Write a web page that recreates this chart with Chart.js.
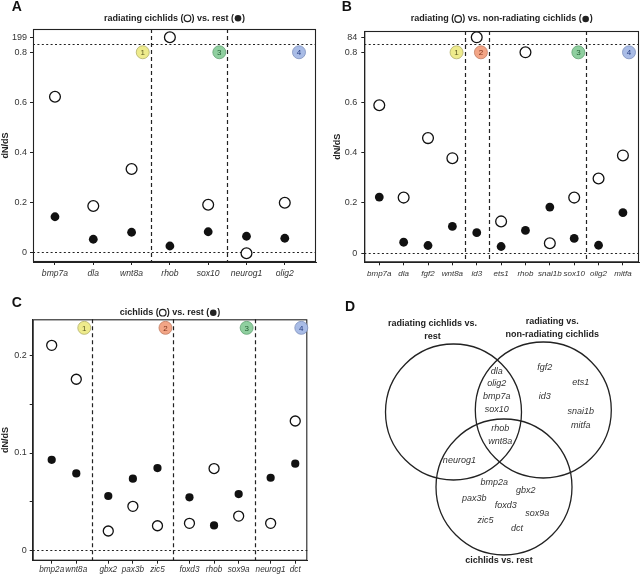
<!DOCTYPE html>
<html>
<head>
<meta charset="utf-8">
<script src="https://cdn.jsdelivr.net/npm/chart.js@4.4.1/dist/chart.umd.min.js"></script>
<style>
  body { margin: 0; background: #fff; }
  #wrap { position: relative; width: 640px; height: 577px; }
  canvas { position: absolute; }
</style>
</head>
<body>
<div id="wrap">
  <canvas id="chartA" width="320" height="290" style="left:0;top:0"></canvas>
  <canvas id="chartB" width="320" height="290" style="left:320px;top:0"></canvas>
  <canvas id="chartC" width="320" height="287" style="left:0;top:290px"></canvas>
  <canvas id="chartD" width="320" height="287" style="left:320px;top:290px"></canvas>
</div>
<script>
// ---- panel A: radiating cichlids vs rest
const genesA = ['bmp7a', 'dla', 'wnt8a', 'rhob', 'sox10', 'neurog1', 'olig2'];
const openA = [0.622, 0.185, 0.333, 199, 0.19, -0.004, 0.198];
const filledA = [0.142, 0.052, 0.08, 0.025, 0.082, 0.064, 0.056];
const splitsA = [2, 4];          // divider after these gene indexes
const badgesA = [1, 3, 4];
const titleA = ['radiating cichlids (', 'open', ') vs. rest (', 'filled', ')'];

// ---- panel B: radiating vs non-radiating cichlids
const genesB = ['bmp7a', 'dla', 'fgf2', 'wnt8a', 'id3', 'ets1', 'rhob', 'snai1b', 'sox10', 'olig2', 'mitfa'];
const openB = [0.589, 0.221, 0.458, 0.378, 84, 0.126, 0.8, 0.039, 0.221, 0.297, 0.389];
const filledB = [0.223, 0.043, 0.03, 0.106, 0.081, 0.026, 0.09, 0.183, 0.058, 0.031, 0.161];
const splitsB = [3, 4, 8];
const badgesB = [1, 2, 3, 4];
const titleB = ['radiating (', 'open', ') vs. non-radiating cichlids (', 'filled', ')'];

// ---- panel C: cichlids vs rest
const genesC = ['bmp2a', 'wnt8a', 'gbx2', 'pax3b', 'zic5', 'foxd3', 'rhob', 'sox9a', 'neurog1', 'dct'];
const openC = [0.211, 0.176, 0.0196, 0.045, 0.025, 0.0275, 0.084, 0.035, 0.0275, 0.133];
const filledC = [0.093, 0.079, 0.0557, 0.0735, 0.0845, 0.0543, 0.0254, 0.0577, 0.0745, 0.089];
const splitsC = [1, 4, 7];
const badgesC = [1, 2, 3, 4];
const titleC = ['cichlids (', 'open', ') vs. rest (', 'filled', ')'];

// y ticks
const yTicksAB = [0, 0.2, 0.4, 0.6, 0.8];
const yLabelsAB = ['0', '0.2', '0.4', '0.6', '0.8'];
const yTicksC = [0, 0.05, 0.1, 0.15, 0.2];
const yLabelsC = ['0', '', '0.1', '', '0.2'];

// ---- panel D: venn
const setTitles = [['radiating cichlids vs.', 'rest'], ['radiating vs.', 'non-radiating cichlids'], ['cichlids vs. rest']];
const genesOnly2 = ['fgf2', 'ets1', 'id3', 'snai1b', 'mitfa'];
const genesOnly3 = ['bmp2a', 'gbx2', 'pax3b', 'foxd3', 'sox9a', 'zic5', 'dct'];
const genes12 = ['dla', 'olig2', 'bmp7a', 'sox10'];
const genes13 = ['neurog1'];
const genes123 = ['rhob', 'wnt8a'];

const FONT = '"Liberation Sans", Arial, Helvetica, sans-serif';
Chart.defaults.font.family = FONT;
const INK = '#222';

const badgeColors = {
  1: { fill: '#eeeb8c', line: '#b3b06a', text: '#5e5c22' },
  2: { fill: '#f2a586', line: '#c27c62', text: '#7f321b' },
  3: { fill: '#8fcf9f', line: '#62a274', text: '#245f34' },
  4: { fill: '#a9bce6', line: '#7d90bd', text: '#263c80' }
};

function drawTitle(ctx, parts, cx, cy) {
  ctx.font = 'bold 9px ' + FONT;
  const sym = 8;
  const isSym = p => p === 'open' || p === 'filled';
  const w = parts.reduce((s, p) => s + (isSym(p) ? sym : ctx.measureText(p).width), 0);
  let x = cx - w / 2;
  ctx.textBaseline = 'middle';
  ctx.textAlign = 'left';
  ctx.fillStyle = INK;
  ctx.strokeStyle = INK;
  parts.forEach(p => {
    if (isSym(p)) {
      ctx.beginPath();
      ctx.arc(x + sym / 2, cy, 3.3, 0, Math.PI * 2);
      if (p === 'filled') ctx.fill();
      else { ctx.lineWidth = 1.2; ctx.stroke(); }
      x += sym;
    } else {
      ctx.fillText(p, x, cy);
      x += ctx.measureText(p).width;
    }
  });
}

function makePanel(id, p) {
  // group gap pushes categories apart across dividers
  const xs = p.genes.map((g, i) => i + p.gap * p.splits.filter(s => s < i).length);
  const divs = p.splits.map(s => (xs[s] + xs[s + 1]) / 2);
  const plotY = v => (v > 1 ? p.breakAt : v);
  const yTicks = p.breakAt ? p.yTicks.concat([p.breakAt]) : p.yTicks;
  const yLabels = p.breakAt ? p.yLabels.concat([String(p.openVals.find(v => v > 1))]) : p.yLabels;

  const decor = {
    id: 'decor',
    beforeDatasetsDraw(chart) {
      const { ctx, chartArea: a, scales: { x, y } } = chart;
      ctx.save();
      ctx.strokeStyle = INK;
      ctx.lineWidth = 1.1;
      ctx.setLineDash([2, 2.4]);
      const hl = [0];
      if (p.breakLine) hl.push(p.breakLine);
      hl.forEach(v => {
        const py = Math.round(y.getPixelForValue(v)) + 0.5;
        ctx.beginPath(); ctx.moveTo(a.left, py); ctx.lineTo(a.right, py); ctx.stroke();
      });
      ctx.setLineDash([4, 3]);
      ctx.lineWidth = 1.2;
      divs.forEach(v => {
        const px = Math.round(x.getPixelForValue(v)) + 0.5;
        ctx.beginPath(); ctx.moveTo(px, a.top); ctx.lineTo(px, a.bottom); ctx.stroke();
      });
      ctx.restore();
    },
    afterDraw(chart) {
      const { ctx, chartArea: a, scales: { x, y } } = chart;
      ctx.save();
      ctx.strokeStyle = INK;
      ctx.lineWidth = 1.1;
      ctx.strokeRect(a.left + 0.5, a.top + 0.5, a.right - a.left - 1, a.bottom - a.top - 1);
      // numbered badges at the right end of each group
      const by = y.getPixelForValue(p.badgeY);
      p.badges.forEach((n, g) => {
        const bx = g < divs.length ? x.getPixelForValue(divs[g]) - 8 : a.right - p.lastInset;
        const c = badgeColors[n];
        ctx.beginPath();
        ctx.arc(bx, by, 6.5, 0, Math.PI * 2);
        ctx.fillStyle = c.fill; ctx.fill();
        ctx.lineWidth = 0.8; ctx.strokeStyle = c.line; ctx.stroke();
        ctx.fillStyle = c.text;
        ctx.font = '8px ' + FONT;
        ctx.textAlign = 'center'; ctx.textBaseline = 'middle';
        ctx.fillText(String(n), bx, by + 0.5);
      });
      drawTitle(ctx, p.title, (a.left + a.right) / 2, a.top - p.titleGap);
      ctx.fillStyle = '#111';
      ctx.font = 'bold 14px ' + FONT;
      ctx.textAlign = 'center'; ctx.textBaseline = 'middle';
      ctx.fillText(p.letter, p.letterPos[0], p.letterPos[1]);
      ctx.restore();
    }
  };

  return new Chart(document.getElementById(id), {
    type: 'scatter',
    data: {
      datasets: [
        {
          data: p.filledVals.map((v, i) => ({ x: xs[i], y: plotY(v) })),
          pointRadius: p.rFilled, pointBackgroundColor: '#111', pointBorderWidth: 0, clip: false
        },
        {
          data: p.openVals.map((v, i) => ({ x: xs[i], y: plotY(v) })),
          pointRadius: p.rOpen, pointBackgroundColor: '#fff', pointBorderColor: '#111',
          pointBorderWidth: 1.3, clip: false
        }
      ]
    },
    options: {
      responsive: false,
      animation: false,
      events: [],
      layout: { padding: p.pad, autoPadding: false },
      plugins: { legend: { display: false }, tooltip: { enabled: false }, title: { display: false } },
      scales: {
        x: {
          type: 'linear', min: p.xMin, max: p.xMax,
          afterBuildTicks: s => { s.ticks = xs.map(v => ({ value: v })); },
          afterFit: s => { s.height = p.xAxisH; },
          ticks: {
            autoSkip: false, maxRotation: 0, padding: p.xPad, color: '#333',
            font: { size: p.xFont, style: 'italic' },
            callback: (v, i) => p.genes[i]
          },
          grid: { drawOnChartArea: false, tickLength: 3, color: INK, lineWidth: 1 },
          border: { color: INK }
        },
        y: {
          min: p.yMin, max: p.yMax,
          afterBuildTicks: s => { s.ticks = yTicks.map(v => ({ value: v })); },
          afterFit: s => { s.width = p.yAxisW; },
          ticks: {
            autoSkip: false, padding: p.yPad, color: '#333',
            font: { size: 9 },
            callback: (v, i) => yLabels[i]
          },
          grid: { drawOnChartArea: false, tickLength: 3, color: INK, lineWidth: 1 },
          border: { color: INK },
          title: { display: true, text: 'dN/dS', color: INK, font: { size: 9, weight: 'bold' }, padding: 0 }
        }
      }
    },
    plugins: [decor]
  });
}

makePanel('chartA', {
  genes: genesA, openVals: openA, filledVals: filledA, splits: splitsA, badges: badgesA, title: titleA,
  yTicks: yTicksAB, yLabels: yLabelsAB, breakAt: 0.86, breakLine: 0.832, badgeY: 0.8,
  gap: 0, xMin: -0.574, xMax: 6.815, yMin: -0.039, yMax: 0.893,
  pad: { left: 0, right: 4, top: 29, bottom: 0 }, yAxisW: 33, xAxisH: 28, xPad: 3, yPad: 3, xFont: 8.6,
  lastInset: 17, titleGap: 10.7, letter: 'A', letterPos: [16.7, 7], rOpen: 5.4, rFilled: 4.4
});

makePanel('chartB', {
  genes: genesB, openVals: openB, filledVals: filledB, splits: splitsB, badges: badgesB, title: titleB,
  yTicks: yTicksAB, yLabels: yLabelsAB, breakAt: 0.86, breakLine: 0.832, badgeY: 0.8,
  gap: 0, xMin: -0.615, xMax: 10.66, yMin: -0.037, yMax: 0.885,
  pad: { left: 12, right: 1, top: 31, bottom: 0 }, yAxisW: 32.3, xAxisH: 27.7, xPad: 4, yPad: 4, xFont: 8,
  lastInset: 10, titleGap: 12, letter: 'B', letterPos: [26.7, 7], rOpen: 5.4, rFilled: 4.4
});

makePanel('chartC', {
  genes: genesC, openVals: openC, filledVals: filledC, splits: splitsC, badges: badgesC, title: titleC,
  yTicks: yTicksC, yLabels: yLabelsC, breakAt: null, breakLine: null, badgeY: 0.229,
  gap: 0.3, xMin: -0.772, xMax: 10.39, yMin: -0.011, yMax: 0.2378,
  pad: { left: 0, right: 12.7, top: 29.3, bottom: 0 }, yAxisW: 32.7, xAxisH: 16.3, xPad: 1, yPad: 3, xFont: 8.2,
  lastInset: 6, titleGap: 6.6, letter: 'C', letterPos: [16.7, 13.3], rOpen: 5, rFilled: 4.1
});

// ---- panel D: Venn diagram drawn as a bubble chart on a pixel-like scale
const circles = [
  { x: 133.5, y: 122, r: 68 },
  { x: 223.3, y: 120, r: 68 },
  { x: 184, y: 197, r: 68 }
];
// column pattern says which column each gene of a region goes to
const regions = [
  { sets: [1], genes: genesOnly2, cols: [0, 1, 0, 1, 1], dx: 36, dy: 14.4, slant: 0, lift: -1.4 },
  { sets: [2], genes: genesOnly3, cols: [1, 2, 0, 1, 2, 0, 1], dx: 27.7, dy: 7.6, slant: 3.8, lift: -4.2 },
  { sets: [0, 1], genes: genes12, cols: [0, 0, 0, 0], dx: 0, dy: 12.6, slant: 0, lift: 2 },
  { sets: [0, 2], genes: genes13, cols: [0], dx: 0, dy: 13, slant: 0, lift: -0.6 },
  { sets: [0, 1, 2], genes: genes123, cols: [0, 0], dx: 0, dy: 13.3, slant: 0, lift: -1.5 }
];
const titleOffsets = [-21, 9, -5];

const mean = pts => ({ x: pts.reduce((s, c) => s + c.x, 0) / pts.length, y: pts.reduce((s, c) => s + c.y, 0) / pts.length });

const vennText = {
  id: 'vennText',
  afterDraw(chart) {
    const { ctx, scales: { x, y } } = chart;
    ctx.save();
    ctx.fillStyle = '#333';
    ctx.textAlign = 'center';
    ctx.textBaseline = 'middle';
    ctx.font = 'italic 9px ' + FONT;
    regions.forEach(rg => {
      const inc = mean(rg.sets.map(i => circles[i]));
      const excl = circles.filter((c, i) => !rg.sets.includes(i));
      let ax = inc.x, ay = inc.y + rg.lift;
      if (excl.length) {
        const e = mean(excl);
        ax += 0.3 * (inc.x - e.x);
        ay += 0.3 * (inc.y - e.y);
      }
      const n = rg.genes.length;
      const nc = Math.max(...rg.cols) + 1;
      rg.genes.forEach((g, k) => {
        const mid = k - (n - 1) / 2;
        const gx = ax + (rg.cols[k] - (nc - 1) / 2) * rg.dx + mid * rg.slant;
        const gy = ay + mid * rg.dy;
        ctx.fillText(g, x.getPixelForValue(gx), y.getPixelForValue(gy));
      });
    });
    ctx.font = 'bold 9px ' + FONT;
    ctx.fillStyle = INK;
    setTitles.forEach((lines, i) => {
      const c = circles[i];
      const tx = x.getPixelForValue(c.x + titleOffsets[i]);
      lines.forEach((t, j) => {
        const ty = i < 2 ? c.y - c.r - 20 + j * 13 : c.y + c.r + 6 + j * 13;
        ctx.fillText(t, tx, y.getPixelForValue(ty));
      });
    });
    ctx.fillStyle = '#111';
    ctx.font = 'bold 14px ' + FONT;
    ctx.fillText('D', 30, 17);
    ctx.restore();
  }
};

new Chart(document.getElementById('chartD'), {
  type: 'bubble',
  data: {
    datasets: [{
      data: circles,
      backgroundColor: 'rgba(0,0,0,0)',
      borderColor: INK,
      borderWidth: 1.3,
      clip: false
    }]
  },
  options: {
    responsive: false,
    animation: false,
    events: [],
    layout: { padding: 0, autoPadding: false },
    plugins: { legend: { display: false }, tooltip: { enabled: false } },
    scales: {
      x: { type: 'linear', min: 0, max: 320, display: false },
      y: { type: 'linear', min: 0, max: 287, reverse: true, display: false }
    }
  },
  plugins: [vennText]
});
</script>
</body>
</html>
